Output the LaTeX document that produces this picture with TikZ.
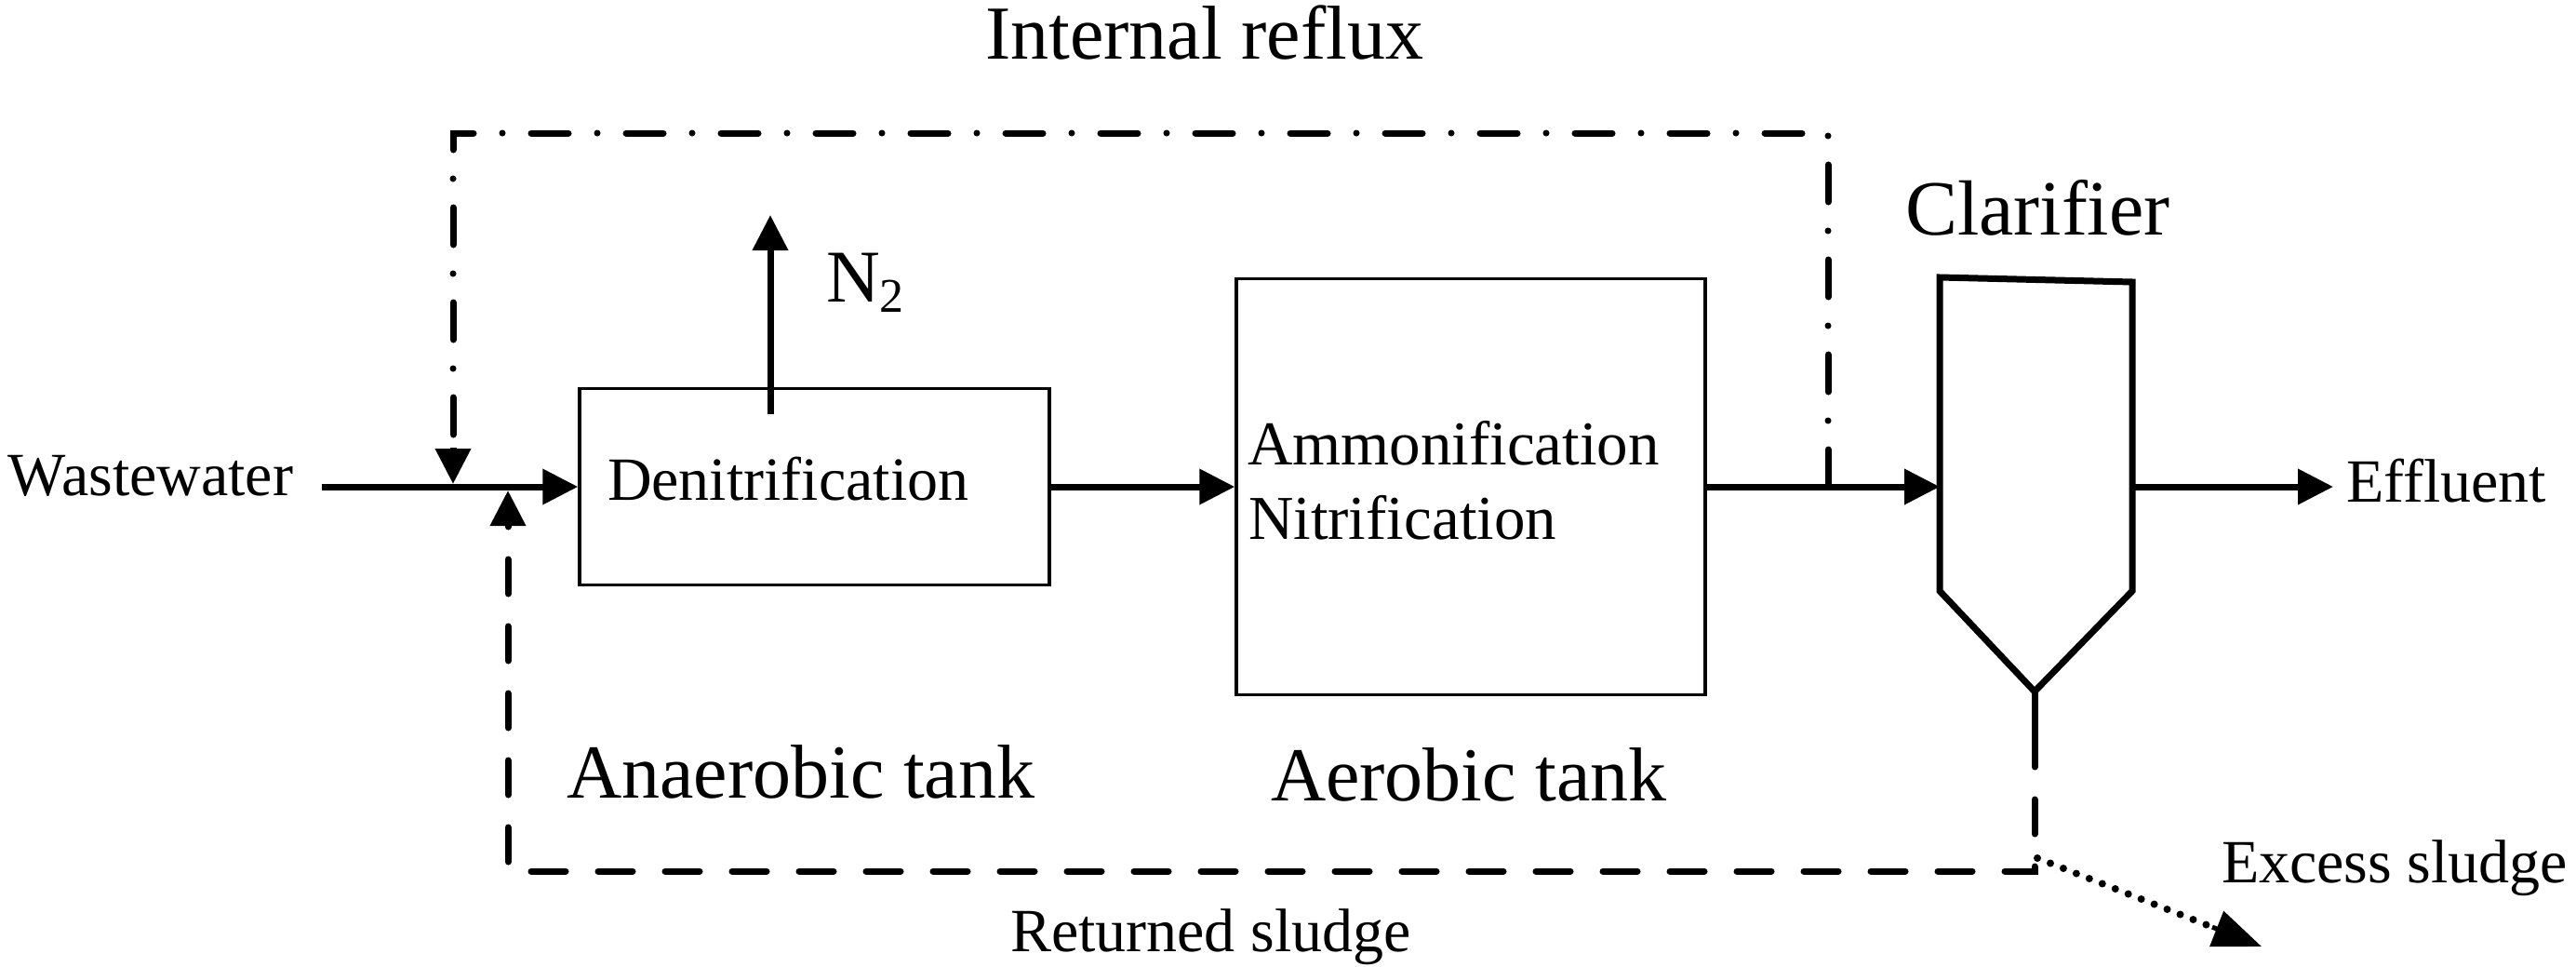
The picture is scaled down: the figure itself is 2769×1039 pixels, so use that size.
\documentclass[tikz,border=0pt]{standalone}
\usepackage{fontspec}
\setmainfont{Liberation Serif}
\usetikzlibrary{arrows.meta,calc}
\newcommand\fsz[1]{\fontsize{#1}{#1}\selectfont}
\begin{document}
\begin{tikzpicture}[x=1pt,y=-1pt,
  flow/.style={line width=7pt,-{Triangle[length=38pt,width=37pt]}},
  plain/.style={line width=7pt},
  tankbox/.style={draw,line width=3.5pt,rectangle,inner sep=0pt},
  reflux/.style={line width=7pt,line cap=round,dash pattern=on 40pt off 31pt on 0pt off 31pt},
  sludge/.style={line width=7pt,line cap=round,dash pattern=on 37pt off 35pt},
  excess/.style={line width=8pt,line cap=round,dash pattern=on 0pt off 15pt},
  lbl/.style={anchor=base west,inner sep=0pt,outer sep=0pt}]
\useasboundingbox (0,0) rectangle (2769,1039);
\fill[white] (0,0) rectangle (2769,1039);

% tanks
\node[tankbox,minimum width=505pt,minimum height=211pt] (den) at (875.5,523) {};
\node[tankbox,minimum width=504pt,minimum height=447pt] (aer) at (1581,523) {};

% clarifier
\coordinate (clTL) at (2085,298);
\coordinate (clTR) at (2292,303);
\coordinate (clBR) at (2292,635);
\coordinate (clTip) at (2187,743);
\coordinate (clBL) at (2085,635);
\coordinate (clStem) at (2187,787);
\draw[line width=7pt,line join=miter] (clTL) -- (clTR) -- (clBR) -- (clTip) -- (clBL) -- cycle;
\draw[plain] (clTip) -- (clStem);

% key points
\coordinate (wwstart) at (346,523);
\coordinate (irin) at (487,520);
\coordinate (rsin) at (546,527);
\coordinate (irout) at (1965,523);
\coordinate (irTR) at (1965,143);
\coordinate (irTL) at (487,143);
\coordinate (clin) at (2085,523);
\coordinate (clout) at (2292,523);
\coordinate (effend) at (2508,523);
\coordinate (rsBR) at (2187,936);
\coordinate (rsBL) at (546,936);
\coordinate (exstart) at (2190,922);
\coordinate (exend) at (2431,1017);
\coordinate (n2base) at (828,445);
\coordinate (n2tip) at (828,231);

% texts
\node[lbl,font=\fsz{82}] (irlabel) at (1059,63) {Internal reflux};
\node[lbl,font=\fsz{66}] (ww) at (9,532) {Wastewater};
\node[lbl,font=\fsz{66}] (dentxt) at (653,537) {Denitrification};
\node[lbl,font=\fsz{67}] (amm) at (1341,499) {Ammonification};
\node[lbl,font=\fsz{67}] (nit) at (1342,579) {Nitrification};
\node[lbl,font=\fsz{80}] (n2) at (888,324) {N\raisebox{-11pt}{\fsz{52}2}};
\node[lbl,font=\fsz{84}] (clar) at (2048,252) {Clarifier};
\node[lbl,font=\fsz{66}] (eff) at (2522,539) {Effluent};
\node[lbl,font=\fsz{82}] (anaer) at (609,857) {Anaerobic tank};
\node[lbl,font=\fsz{82}] (aertxt) at (1366,860) {Aerobic tank};
\node[lbl,font=\fsz{66}] (rs) at (1086,1022) {Returned sludge};
\node[lbl,font=\fsz{66}] (ex) at (2388,948) {Excess sludge};

% main flow
\draw[flow] (wwstart) -- (den.west);
\draw[flow] (den.east) -- (aer.west);
\draw[flow] (aer.east) -- (clin);
\draw[flow] (clout) -- (effend);
\draw[flow] (n2base) -- (n2tip);

% internal reflux
\draw[reflux] (irout) -- (irTR) -- (irTL) -- ([yshift=38pt]irin);
\draw[line width=7pt,-{Triangle[length=38pt,width=37pt]}] ([yshift=39pt]irin) -- (irin);

% returned sludge
\draw[sludge] (clStem) -- (rsBR) -- (rsBL) -- ([yshift=-38pt]rsin);
\draw[line width=7pt,-{Triangle[length=38pt,width=37pt]}] ([yshift=-40pt]rsin) -- (rsin);

% excess sludge
\draw[excess] (exstart) -- ($(exstart)!0.8!(exend)$);
\draw[line width=5pt,-{Triangle[length=52pt,width=40pt]}] ($(exstart)!0.78!(exend)$) -- (exend);
\end{tikzpicture}
\end{document}
